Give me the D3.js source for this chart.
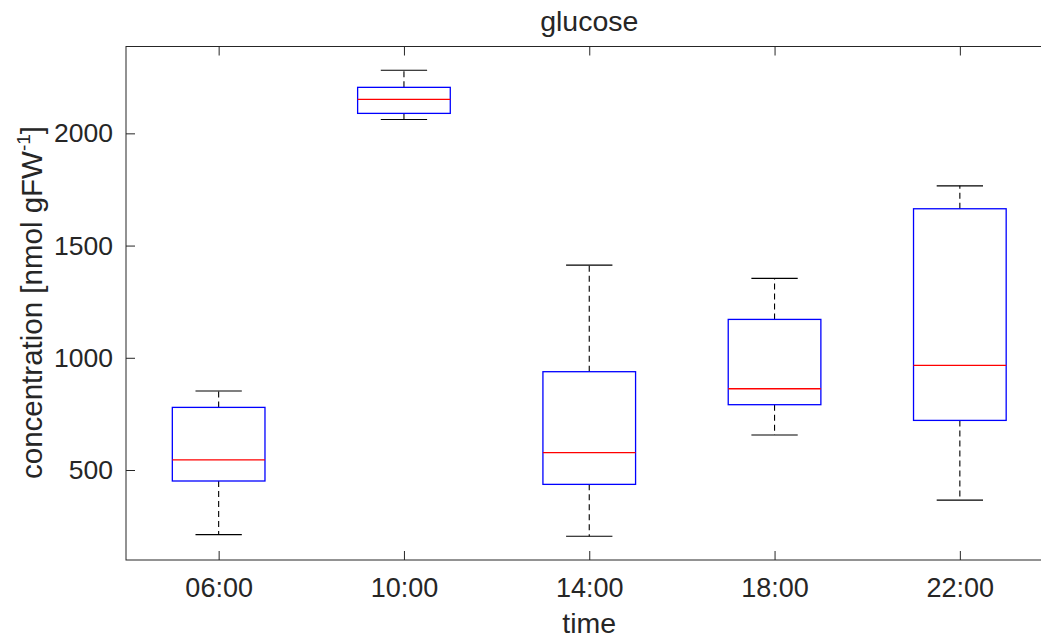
<!DOCTYPE html>
<html>
<head>
<meta charset="utf-8">
<script src="https://cdn.jsdelivr.net/npm/d3@7"></script>
<style>
  html, body { margin: 0; padding: 0; background: #fff; }
  text { font-family: "Liberation Sans", Arial, Helvetica, sans-serif; fill: #262626; }
</style>
</head>
<body>
<svg id="chart" width="1041" height="640"></svg>
<script>
// Glucose concentration by sampling time (box summaries)
const times = ["06:00", "10:00", "14:00", "18:00", "22:00"];
const whiskerLow  = [212, 2062, 205, 656, 366];
const quartile1   = [451, 2089, 436, 791, 721];
const medians     = [545, 2151, 577, 862, 966];
const quartile3   = [779, 2205, 938, 1171, 1664];
const whiskerHigh = [852, 2281, 1413, 1354, 1766];
const yTicks = [500, 1000, 1500, 2000];

const svg = d3.select("#chart");
const plotLeft = 126, plotRight = 1052.5, plotTop = 46.5, plotBottom = 560;
const axisColor = "#262626";

const x = d3.scaleLinear().domain([0.5, times.length + 0.5]).range([plotLeft, plotRight]);
const y = d3.scaleLinear().domain([99, 2387]).range([plotBottom, plotTop]);

const boxes = times.map((t, i) => ({
  t, pos: i + 1,
  lo: whiskerLow[i], q1: quartile1[i], med: medians[i], q3: quartile3[i], hi: whiskerHigh[i]
}));

// Axes frame (box on, inward ticks on all sides)
const tickLen = 9;
const frame = svg.append("g");
frame.append("rect")
  .attr("x", plotLeft).attr("y", plotTop)
  .attr("width", plotRight - plotLeft).attr("height", plotBottom - plotTop)
  .attr("fill", "none").attr("stroke", axisColor).attr("stroke-width", 1);

const xAxis = d3.axisBottom(x).tickValues(boxes.map(d => d.pos))
  .tickFormat((d, i) => times[i]).tickSizeInner(-tickLen).tickSizeOuter(0).tickPadding(18);
const xg = svg.append("g").attr("transform", `translate(0,${plotBottom})`).call(xAxis);
xg.select(".domain").remove();
xg.selectAll(".tick line").attr("stroke", axisColor);
xg.selectAll(".tick text").attr("font-size", 27).attr("fill", axisColor)
  .attr("font-family", "Liberation Sans, Arial, sans-serif");

const xTop = d3.axisTop(x).tickValues(boxes.map(d => d.pos)).tickFormat("")
  .tickSizeInner(-tickLen).tickSizeOuter(0);
const xtg = svg.append("g").attr("transform", `translate(0,${plotTop})`).call(xTop);
xtg.select(".domain").remove();
xtg.selectAll(".tick line").attr("stroke", axisColor);

const yAxis = d3.axisLeft(y).tickValues(yTicks).tickFormat(d3.format("d"))
  .tickSizeInner(-tickLen).tickSizeOuter(0).tickPadding(13);
const yg = svg.append("g").attr("transform", `translate(${plotLeft},0)`).call(yAxis);
yg.select(".domain").remove();
yg.selectAll(".tick line").attr("stroke", axisColor);
yg.selectAll(".tick text").attr("font-size", 26.5).attr("fill", axisColor)
  .attr("font-family", "Liberation Sans, Arial, sans-serif");

const yRight = d3.axisRight(y).tickValues(yTicks).tickFormat("")
  .tickSizeInner(-tickLen).tickSizeOuter(0);
const yrg = svg.append("g").attr("transform", `translate(${plotRight},0)`).call(yRight);
yrg.select(".domain").remove();
yrg.selectAll(".tick line").attr("stroke", axisColor);

// Box plots
const boxW = 0.5, capW = 0.25;
const bg = svg.append("g").selectAll("g").data(boxes).join("g");

// whiskers (dashed)
bg.append("line")
  .attr("x1", d => x(d.pos)).attr("x2", d => x(d.pos))
  .attr("y1", d => y(d.q3)).attr("y2", d => y(d.hi))
  .attr("stroke", "#000").attr("stroke-width", 1.1).attr("stroke-dasharray", "6,4");
bg.append("line")
  .attr("x1", d => x(d.pos)).attr("x2", d => x(d.pos))
  .attr("y1", d => y(d.q1)).attr("y2", d => y(d.lo))
  .attr("stroke", "#000").attr("stroke-width", 1.1).attr("stroke-dasharray", "6,4");
// caps
bg.append("line")
  .attr("x1", d => x(d.pos - capW / 2)).attr("x2", d => x(d.pos + capW / 2))
  .attr("y1", d => y(d.hi)).attr("y2", d => y(d.hi))
  .attr("stroke", "#000").attr("stroke-width", 1.1);
bg.append("line")
  .attr("x1", d => x(d.pos - capW / 2)).attr("x2", d => x(d.pos + capW / 2))
  .attr("y1", d => y(d.lo)).attr("y2", d => y(d.lo))
  .attr("stroke", "#000").attr("stroke-width", 1.1);
// box
bg.append("rect")
  .attr("x", d => x(d.pos - boxW / 2)).attr("width", d => x(d.pos + boxW / 2) - x(d.pos - boxW / 2))
  .attr("y", d => y(d.q3)).attr("height", d => y(d.q1) - y(d.q3))
  .attr("fill", "none").attr("stroke", "#0000ff").attr("stroke-width", 1.3);
// median
bg.append("line")
  .attr("x1", d => x(d.pos - boxW / 2)).attr("x2", d => x(d.pos + boxW / 2))
  .attr("y1", d => y(d.med)).attr("y2", d => y(d.med))
  .attr("stroke", "#ff0000").attr("stroke-width", 1.3);

// Title and axis labels
svg.append("text").attr("x", (plotLeft + plotRight) / 2).attr("y", 31)
  .attr("text-anchor", "middle").attr("font-size", 28.5).text("glucose");

svg.append("text").attr("x", (plotLeft + plotRight) / 2).attr("y", 633)
  .attr("text-anchor", "middle").attr("font-size", 28.5).text("time");

const yl = svg.append("text")
  .attr("transform", `translate(42,302.5) rotate(-90)`)
  .attr("text-anchor", "middle").attr("font-size", 29.5);
yl.append("tspan").text("concentration [nmol gFW");
yl.append("tspan").attr("font-size", 19).attr("dy", -12).text("-1");
yl.append("tspan").attr("dy", 12).text("]");
</script>
</body>
</html>
